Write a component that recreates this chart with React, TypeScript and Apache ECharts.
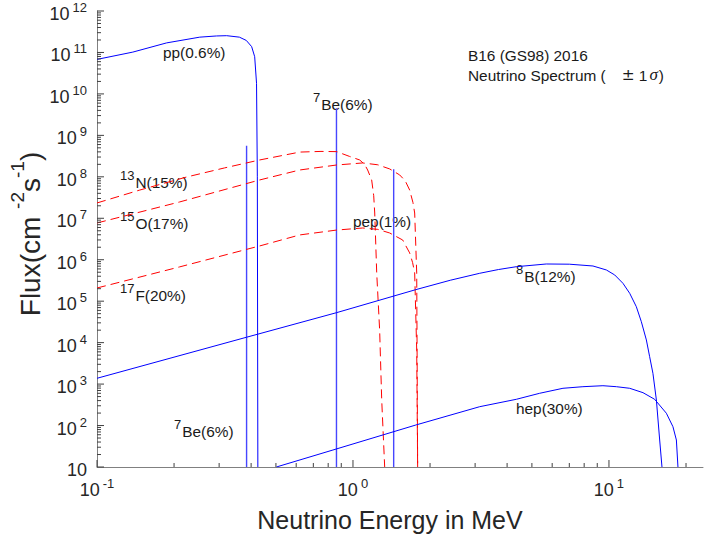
import React, { useEffect, useRef } from "react";
import * as echarts from "echarts";

// Axis ranges (MeV on x, flux on y)
const X_MIN = 0.1;
const X_MAX = 23.3;
const Y_MIN = 10;
const Y_MAX = 1e12;

// Decade exponents that carry a tick label, and minor-tick multiples within a decade
const xTickExponents = [-1, 0, 1];
const yTickExponents = [1, 2, 3, 4, 5, 6, 7, 8, 9, 10, 11, 12];
const minorMultiples = [2, 3, 4, 5, 6, 7, 8, 9];

// Continuum spectra: [energy in MeV, flux]
const ppSpectrum = [
  [0.1, 6.8e10], [0.138, 1.02e11], [0.187, 1.7e11], [0.252, 2.34e11], [0.293, 2.5e11],
  [0.321, 2.54e11], [0.36, 2.34e11], [0.383, 1.95e11], [0.402, 1.38e11], [0.413, 7.9e10],
  [0.42, 1.8e10], [0.423, 1e8], [0.425, 10],
];
const n13Spectrum = [
  [0.1, 2.34e7], [0.147, 4.8e7], [0.224, 9.9e7], [0.315, 1.64e8], [0.432, 2.55e8],
  [0.619, 3.95e8], [0.75, 4.1e8], [0.864, 4.05e8], [0.97, 3.1e8], [1.062, 2.55e8],
  [1.11, 2.0e8], [1.141, 1.46e8], [1.183, 8.4e7], [1.205, 3.5e7], [1.216, 1.34e7],
  [1.238, 4.8e5], [1.271, 2.0e4], [1.295, 410], [1.33, 10],
];
const o15Spectrum = [
  [0.1, 7.7e6], [0.21, 2.47e7], [0.432, 8.4e7], [0.619, 1.46e8], [0.864, 1.93e8],
  [1.091, 2.16e8], [1.25, 1.95e8], [1.391, 1.55e8], [1.522, 1.11e8], [1.6, 8.0e7],
  [1.665, 4.8e7], [1.715, 2.4e7], [1.742, 1.34e7], [1.774, 4.8e5], [1.78, 6.6e3], [1.789, 10],
];
const f17Spectrum = [
  [0.1, 2.08e5], [0.21, 6.7e5], [0.432, 2.15e6], [0.619, 3.96e6], [0.864, 5.2e6],
  [1.091, 5.83e6], [1.25, 5.4e6], [1.391, 4.42e6], [1.564, 2.99e6], [1.665, 1.46e6],
  [1.71, 8.5e5], [1.742, 4.8e5], [1.774, 6.6e3], [1.789, 10],
];
const b8Spectrum = [
  [0.1, 1.38e3], [0.384, 1.35e4], [0.864, 5.3e4], [1.76, 1.9e5], [2.4, 3.2e5],
  [3.126, 4.71e5], [3.7, 5.8e5], [4.348, 6.79e5], [5.69, 7.89e5], [7.0, 7.8e5],
  [8.66, 7.06e5], [9.77, 5.66e5], [10.53, 4.29e5], [11.34, 2.7e5], [12.05, 1.55e5],
  [12.79, 7.37e4], [13.38, 3.2e4], [14.0, 1.16e4], [14.42, 4.58e3], [14.85, 1.82e3],
  [15.32, 413], [15.78, 44.8], [16.11, 10],
];
const hepSpectrum = [
  [0.502, 10], [0.835, 25.7], [1.76, 103], [3.126, 285], [4.348, 430], [5.36, 600],
  [6.61, 792], [7.91, 865], [9.47, 914], [10.69, 865], [12.05, 792], [13.58, 621],
  [15.08, 430], [16.76, 198], [17.78, 93.8], [18.34, 44.8], [18.6, 10],
];

// Mono-energetic lines: energy (MeV) and flux
const lineEnergies = [0.384, 0.862, 1.442];
const lineFluxes = [5.6e8, 4.5e9, 1.52e8];

const BLUE = "#0000ff";
const LINE_BLUE = "#4646ff";
const RED = "#ff0000";
const TEXT_COLOR = "#262626";
const NOTE_COLOR = "#1a1a1a";
const AXIS_COLOR = "#808080";
const TICK_COLOR = "#404040";
const FONT = '"Liberation Sans", Arial, Helvetica, sans-serif';

const tickRich = {
  b: { fontSize: 18, lineHeight: 22, fontFamily: FONT, fill: TEXT_COLOR, verticalAlign: "bottom" },
  s: { fontSize: 13, fontFamily: FONT, fill: TEXT_COLOR, verticalAlign: "top", padding: [0, 0, 0, 3] },
};

const noteRich = {
  m: { fontSize: 15.4, lineHeight: 21, fontFamily: FONT, fill: NOTE_COLOR, verticalAlign: "bottom" },
  s: { fontSize: 13, fontFamily: FONT, fill: NOTE_COLOR, verticalAlign: "top", padding: [0, 1, 0, 0] },
  pm: { fontSize: 15.4, lineHeight: 21, fontFamily: '"DejaVu Sans", sans-serif', fill: NOTE_COLOR, verticalAlign: "bottom", padding: [0, 0, 0, 16] },
  i: { fontSize: 17, lineHeight: 21, fontFamily: '"Liberation Serif", "DejaVu Serif", serif', fontStyle: "italic", fill: NOTE_COLOR, verticalAlign: "bottom", padding: [0, 1, 0, 2] },
};

const titleRich = {
  m: { fontSize: 28, lineHeight: 37, fontFamily: FONT, fill: TEXT_COLOR, verticalAlign: "bottom" },
  s: { fontSize: 19, fontFamily: FONT, fill: TEXT_COLOR, verticalAlign: "top" },
};

// Axis decoration items: [x, y, kind, exponent]; kind 0/1 = x major/minor, 2/3 = y major/minor
const tickItems: number[][] = [];
xTickExponents.forEach((e) => {
  tickItems.push([Math.pow(10, e), Y_MIN, 0, e]);
  minorMultiples.forEach((m) => {
    const v = m * Math.pow(10, e);
    if (v <= X_MAX) tickItems.push([v, Y_MIN, 1, e]);
  });
});
yTickExponents.forEach((e) => {
  tickItems.push([X_MIN, Math.pow(10, e), 2, e]);
  if (e < 12) minorMultiples.forEach((m) => tickItems.push([X_MIN, m * Math.pow(10, e), 3, e]));
});

function renderTick(_params: any, api: any) {
  const kind = api.value(2);
  const exp = api.value(3);
  const p = api.coord([api.value(0), api.value(1)]);
  const children: any[] = [];
  if (kind === 0 || kind === 1) {
    const len = kind === 0 ? 7 : 4;
    children.push({
      type: "line",
      shape: { x1: p[0], y1: p[1], x2: p[0], y2: p[1] - len },
      style: { stroke: TICK_COLOR, lineWidth: 1 },
    });
    if (kind === 0) {
      children.push({
        type: "text",
        style: {
          x: p[0],
          y: p[1] + 10,
          text: `{b|10}{s|${exp}}`,
          rich: tickRich,
          align: "center",
          verticalAlign: "top",
        },
      });
    }
  } else {
    const len = kind === 2 ? 7 : 4;
    children.push({
      type: "line",
      shape: { x1: p[0], y1: p[1], x2: p[0] + len, y2: p[1] },
      style: { stroke: TICK_COLOR, lineWidth: 1 },
    });
    if (kind === 2) {
      children.push({
        type: "text",
        style: {
          x: p[0] - 10,
          y: p[1] + 1,
          text: exp === 1 ? "{b|10}" : `{b|10}{s|${exp}}`,
          rich: tickRich,
          align: "right",
          verticalAlign: "middle",
        },
      });
    }
  }
  return { type: "group", children };
}

function note(x: number, y: number, text: string) {
  return {
    type: "text",
    x,
    y,
    silent: true,
    style: { text, rich: noteRich, align: "left", verticalAlign: "middle" },
  };
}

function curve(name: string, data: number[][], color: string, dashed: boolean) {
  return {
    name,
    type: "line",
    data,
    symbol: "none",
    showSymbol: false,
    lineStyle: { color, width: 1, type: dashed ? [9, 5] : "solid" },
    z: 3,
  };
}

const monoLines = lineEnergies.map((e, i) => ({
  type: "line",
  data: [[e, Y_MIN], [e, lineFluxes[i]]],
  symbol: "none",
  showSymbol: false,
  lineStyle: { color: LINE_BLUE, width: 1.4 },
  z: 2,
}));

const option = {
  animation: false,
  backgroundColor: "#ffffff",
  grid: { left: 97, top: 11, width: 606, height: 456 },
  xAxis: {
    type: "log",
    logBase: 10,
    min: X_MIN,
    max: X_MAX,
    axisLine: { show: true, onZero: false, lineStyle: { color: AXIS_COLOR, width: 1 } },
    axisTick: { show: false },
    axisLabel: { show: false },
    splitLine: { show: false },
  },
  yAxis: {
    type: "log",
    logBase: 10,
    min: Y_MIN,
    max: Y_MAX,
    axisLine: { show: true, onZero: false, lineStyle: { color: AXIS_COLOR, width: 1 } },
    axisTick: { show: false },
    axisLabel: { show: false },
    splitLine: { show: false },
  },
  series: [
    curve("pp", ppSpectrum, BLUE, false),
    curve("13N", n13Spectrum, RED, true),
    curve("15O", o15Spectrum, RED, true),
    curve("17F", f17Spectrum, RED, true),
    curve("8B", b8Spectrum, BLUE, false),
    curve("hep", hepSpectrum, BLUE, false),
    ...monoLines,
    {
      type: "custom",
      data: tickItems,
      renderItem: renderTick,
      clip: false,
      silent: true,
      z: 5,
    },
  ],
  graphic: [
    note(163, 49, "{m|pp(0.6%)}"),
    note(313, 101, "{s|7}{m|Be(6%)}"),
    note(120, 179, "{s|13}{m|N(15%)}"),
    note(120, 220, "{s|15}{m|O(17%)}"),
    note(353, 218, "{m|pep(1%)}"),
    note(120, 292, "{s|17}{m|F(20%)}"),
    note(516, 273, "{s|8}{m|B(12%)}"),
    note(174, 428, "{s|7}{m|Be(6%)}"),
    note(516, 405, "{m|hep(30%)}"),
    note(468, 52, "{m|B16 (GS98) 2016}"),
    note(468, 72, "{m|Neutrino Spectrum (}{pm|±}{m| 1}{i|σ}{m|)}"),
    {
      type: "text",
      x: 390,
      y: 520,
      silent: true,
      style: {
        text: "Neutrino Energy in MeV",
        fontSize: 25,
        fontFamily: FONT,
        fill: TEXT_COLOR,
        align: "center",
        verticalAlign: "middle",
      },
    },
    {
      type: "text",
      x: 26,
      y: 234,
      rotation: Math.PI / 2,
      silent: true,
      style: {
        text: "{m|Flux(cm }{s|-2}{m|s}{s|-1}{m|)}",
        rich: titleRich,
        align: "center",
        verticalAlign: "middle",
      },
    },
  ],
};

export default function App() {
  const ref = useRef<HTMLDivElement>(null);
  useEffect(() => {
    if (!ref.current) return;
    const chart = echarts.init(ref.current, null, { renderer: "svg" });
    chart.setOption(option as any);
    return () => chart.dispose();
  }, []);
  return (
    <div
      ref={ref}
      style={{ position: "fixed", left: 0, top: 0, width: 704, height: 538, background: "#fff" }}
    />
  );
}
